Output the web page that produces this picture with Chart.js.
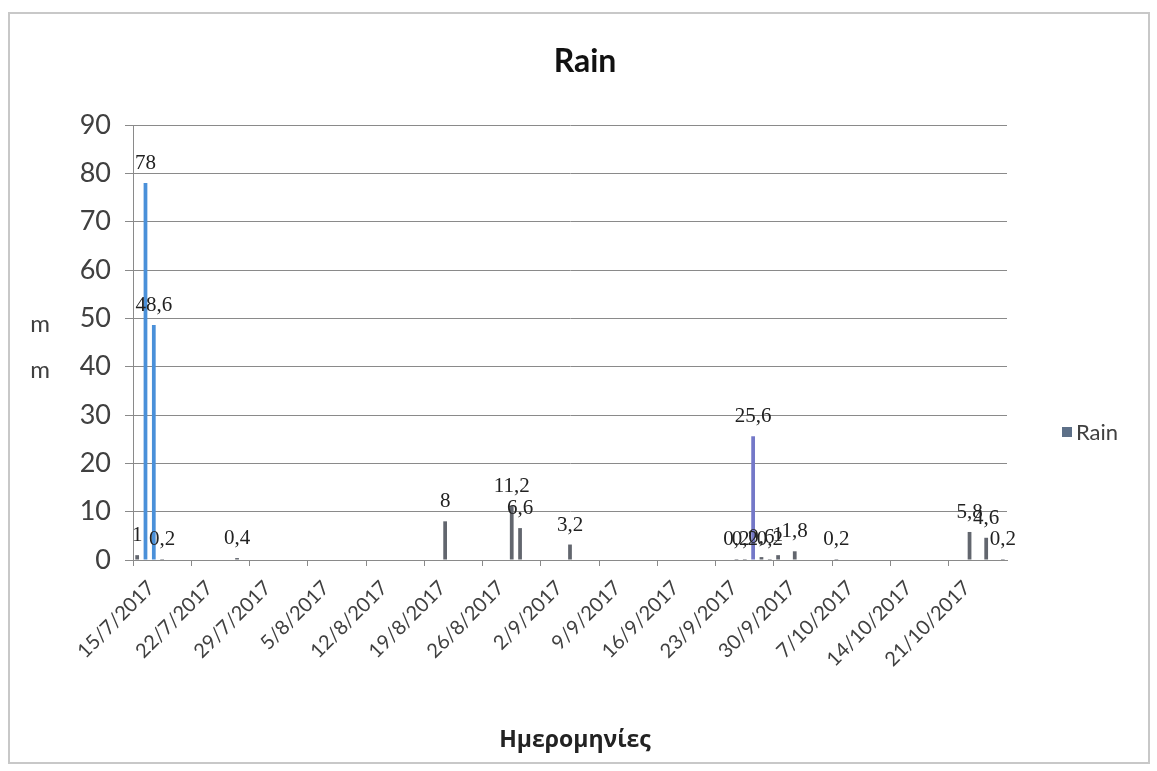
<!DOCTYPE html>
<html>
<head>
<meta charset="utf-8">
<script src="https://cdn.jsdelivr.net/npm/chart.js@4/dist/chart.umd.min.js"></script>
<style>
  html, body { margin: 0; padding: 0; background: #fff; }
  #wrap { width: 1157px; height: 771px; position: relative; }
</style>
</head>
<body>
<div id="wrap"><canvas id="rainChart" width="1157" height="771"></canvas></div>
<script>
// ---------- data ----------
const firstDay = "15/7/2017";
const dayCount = 105; // 15/7/2017 .. 27/10/2017
const tickLabels = ["15/7/2017", "22/7/2017", "29/7/2017", "5/8/2017", "12/8/2017", "19/8/2017",
  "26/8/2017", "2/9/2017", "9/9/2017", "16/9/2017", "23/9/2017", "30/9/2017", "7/10/2017",
  "14/10/2017", "21/10/2017"];
const rainDates = ["15/7/2017", "16/7/2017", "17/7/2017", "18/7/2017", "27/7/2017", "21/8/2017",
  "29/8/2017", "30/8/2017", "5/9/2017", "25/9/2017", "26/9/2017", "27/9/2017", "28/9/2017",
  "29/9/2017", "30/9/2017", "2/10/2017", "7/10/2017", "23/10/2017", "25/10/2017", "27/10/2017"];
const rainValues = [1, 78, 48.6, 0.2, 0.4, 8, 11.2, 6.6, 3.2, 0.2, 0.2, 25.6, 0.6, 0.2, 1, 1.8, 0.2, 5.8, 4.6, 0.2];
const yTicks = [0, 10, 20, 30, 40, 50, 60, 70, 80, 90];

// ---------- categories (one per day) ----------
function buildDays() {
  const [d, m, y] = firstDay.split("/").map(Number);
  const out = [];
  for (let i = 0; i < dayCount; i++) {
    const dt = new Date(y, m - 1, d + i);
    out.push(`${dt.getDate()}/${dt.getMonth() + 1}/${dt.getFullYear()}`);
  }
  return out;
}
const days = buildDays();
const series = days.map((lbl) => {
  const k = rainDates.indexOf(lbl);
  return k >= 0 ? rainValues[k] : null;
});
const barColors = days.map((lbl) => {
  if (lbl === "16/7/2017" || lbl === "17/7/2017") return "#4a90d9";
  if (lbl === "27/9/2017") return "#7478c8";
  return "#62666e";
});

const fmt = (v) => String(v).replace(".", ",");

// ---------- plugins ----------
const frame = {
  id: "frame",
  beforeDraw(chart) {
    const c = chart.ctx;
    c.save();
    c.fillStyle = "#fff";
    c.fillRect(0, 0, chart.width, chart.height);
    c.strokeStyle = "#c8c8c8";
    c.lineWidth = 2;
    c.strokeRect(9, 13, 1140, 750);
    c.restore();
  }
};

const valueLabels = {
  id: "valueLabels",
  afterDatasetsDraw(chart) {
    const c = chart.ctx;
    const meta = chart.getDatasetMeta(0);
    c.save();
    c.font = "21px 'Liberation Serif', serif";
    c.fillStyle = "#222";
    c.textAlign = "center";
    c.textBaseline = "alphabetic";
    meta.data.forEach((bar, i) => {
      const v = series[i];
      if (v === null) return;
      c.fillText(fmt(v), bar.x, bar.y - 14);
    });
    c.restore();
  }
};

const extras = {
  id: "extras",
  afterDraw(chart) {
    const c = chart.ctx;
    const a = chart.chartArea;
    c.save();
    // title
    c.font = "bold 32px Lato, 'Open Sans', sans-serif";
    c.fillStyle = "#111";
    c.textAlign = "center";
    c.textBaseline = "middle";
    c.fillText("Rain", 585, 62);
    // y title, stacked letters
    c.font = "24px Lato, 'Open Sans', sans-serif";
    c.fillStyle = "#404040";
    c.fillText("m", 40, 324);
    c.fillText("m", 40, 370);
    // x title
    c.font = "bold 23px 'Open Sans', 'Noto Sans', sans-serif";
    c.fillStyle = "#222";
    c.fillText("Ημερομηνίες", (a.left + a.right) / 2 + 5, 740);
    // legend
    c.fillStyle = "#5d7088";
    c.fillRect(1062, 427, 10, 10);
    c.font = "22px Lato, 'Open Sans', sans-serif";
    c.fillStyle = "#404040";
    c.textAlign = "left";
    c.fillText(chart.data.datasets[0].label, 1076, 433);
    c.restore();
  }
};

// ---------- chart ----------
new Chart(document.getElementById("rainChart").getContext("2d"), {
  type: "bar",
  data: {
    labels: days,
    datasets: [{
      label: "Rain",
      data: series,
      backgroundColor: barColors,
      barPercentage: 0.45,
      categoryPercentage: 1
    }]
  },
  options: {
    responsive: false,
    animation: false,
    layout: { padding: { left: 0, right: 150, top: 125, bottom: 0 } },
    plugins: {
      legend: { display: false },
      tooltip: { enabled: false },
      title: { display: false }
    },
    scales: {
      x: {
        offset: true,
        afterFit: (s) => { s.height = 211; },
        grid: {
          offset: true,
          drawOnChartArea: false,
          tickLength: 6,
          color: (ctx) => (tickLabels.includes(days[ctx.index]) ? "#8a8a8a" : "rgba(0,0,0,0)")
        },
        border: { color: "#8a8a8a" },
        ticks: {
          autoSkip: false,
          minRotation: 45,
          maxRotation: 45,
          padding: 10,
          labelOffset: 14,
          color: "#404040",
          font: { family: "Lato, 'Open Sans', sans-serif", size: 20 },
          callback: (v, i) => (tickLabels.includes(days[i]) ? days[i] : "")
        }
      },
      y: {
        min: yTicks[0],
        max: yTicks[yTicks.length - 1],
        afterFit: (s) => { s.width = 133; },
        afterBuildTicks: (s) => { s.ticks = yTicks.map((v) => ({ value: v })); },
        grid: { color: "#8a8a8a", tickLength: 8 },
        border: { color: "#8a8a8a" },
        ticks: {
          color: "#404040",
          padding: 14,
          font: { family: "Lato, 'Open Sans', sans-serif", size: 27 }
        }
      }
    }
  },
  plugins: [frame, valueLabels, extras]
});
</script>
</body>
</html>
